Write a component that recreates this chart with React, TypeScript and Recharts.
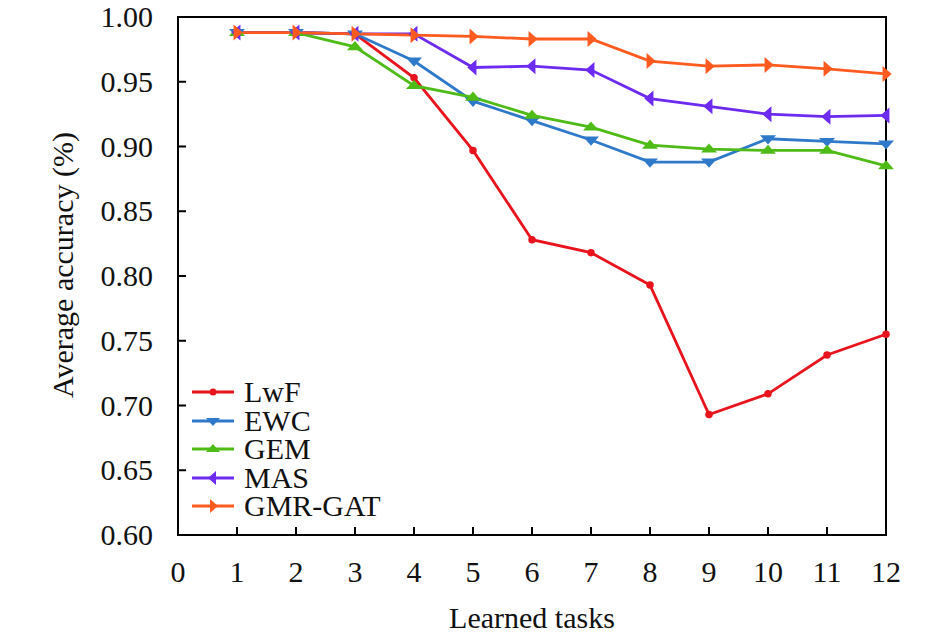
import React from "react";
import {
  Legend,
  Line,
  LineChart,
  ReferenceArea,
  XAxis,
  YAxis,
  Label,
} from "recharts";

const tasks = [1, 2, 3, 4, 5, 6, 7, 8, 9, 10, 11, 12];
const lwf = [0.988, 0.988, 0.987, 0.953, 0.897, 0.828, 0.818, 0.793, 0.693, 0.709, 0.739, 0.755];
const ewc = [0.988, 0.988, 0.987, 0.966, 0.935, 0.92, 0.905, 0.888, 0.888, 0.906, 0.904, 0.902];
const gem = [0.988, 0.988, 0.977, 0.947, 0.938, 0.924, 0.915, 0.901, 0.898, 0.897, 0.897, 0.885];
const mas = [0.988, 0.988, 0.987, 0.987, 0.961, 0.962, 0.959, 0.937, 0.931, 0.925, 0.923, 0.924];
const gmrGat = [0.988, 0.988, 0.987, 0.986, 0.985, 0.983, 0.983, 0.966, 0.962, 0.963, 0.96, 0.956];

const xTicks = [0, 1, 2, 3, 4, 5, 6, 7, 8, 9, 10, 11, 12];
const yTicks = [0.6, 0.65, 0.7, 0.75, 0.8, 0.85, 0.9, 0.95, 1.0];

const FONT = '"Liberation Serif", "Times New Roman", serif';

type Shape = "dot" | "down" | "up" | "left" | "right";

const series: { key: string; name: string; color: string; shape: Shape; values: number[] }[] = [
  { key: "lwf", name: "LwF", color: "#e8131c", shape: "dot", values: lwf },
  { key: "ewc", name: "EWC", color: "#2e79c9", shape: "down", values: ewc },
  { key: "gem", name: "GEM", color: "#4fbb17", shape: "up", values: gem },
  { key: "mas", name: "MAS", color: "#6d2af0", shape: "left", values: mas },
  { key: "gmr", name: "GMR-GAT", color: "#ff5a1f", shape: "right", values: gmrGat },
];

const data = tasks.map((t, i) => {
  const row: Record<string, number> = { task: t };
  series.forEach((s) => {
    row[s.key] = s.values[i];
  });
  return row;
});

const markerPoints = (shape: Shape, cx: number, cy: number, s: number) => {
  const h = s * 0.95;
  switch (shape) {
    case "down":
      return `${cx - s},${cy - h * 0.45} ${cx + s},${cy - h * 0.45} ${cx},${cy + h * 0.75}`;
    case "up":
      return `${cx - s},${cy + h * 0.45} ${cx + s},${cy + h * 0.45} ${cx},${cy - h * 0.75}`;
    case "left":
      return `${cx + h * 0.45},${cy - s} ${cx + h * 0.45},${cy + s} ${cx - h * 0.75},${cy}`;
    default:
      return `${cx - h * 0.45},${cy - s} ${cx - h * 0.45},${cy + s} ${cx + h * 0.75},${cy}`;
  }
};

const Marker = ({ shape, cx, cy, color, size }: { shape: Shape; cx: number; cy: number; color: string; size: number }) =>
  shape === "dot" ? (
    <circle cx={cx} cy={cy} r={size * 0.5} fill={color} />
  ) : (
    <polygon points={markerPoints(shape, cx, cy, size)} fill={color} />
  );

const XTick = (props: any) => {
  const { x, y, payload } = props;
  return (
    <g>
      <line x1={x} x2={x} y1={y} y2={y - 8} stroke="#000" strokeWidth={2} />
      <text x={x} y={y + 47} textAnchor="middle" fontFamily={FONT} fontSize={30} fill="#111">
        {payload.value}
      </text>
    </g>
  );
};

const YTick = (props: any) => {
  const { x, y, payload } = props;
  return (
    <g>
      <line x1={x} x2={x + 8} y1={y} y2={y} stroke="#000" strokeWidth={2} />
      <text x={x - 25} y={y + 10} textAnchor="end" fontFamily={FONT} fontSize={30} fill="#111">
        {Number(payload.value).toFixed(2)}
      </text>
    </g>
  );
};

const renderLegend = () => (
  <div style={{ fontFamily: FONT, fontSize: 30, color: "#111" }}>
    {series.map((s) => (
      <div key={s.key} style={{ display: "flex", alignItems: "center", height: 28.5, lineHeight: "28.5px" }}>
        <svg width={44} height={24} style={{ display: "block" }}>
          <line x1={0} x2={42} y1={12} y2={12} stroke={s.color} strokeWidth={3} />
          <Marker shape={s.shape} cx={21} cy={12} color={s.color} size={s.shape === "dot" ? 7 : 7} />
        </svg>
        <span style={{ marginLeft: 8 }}>{s.name}</span>
      </div>
    ))}
  </div>
);

const YLabel = ({ viewBox }: any) => {
  const cy = viewBox.y + viewBox.height / 2 - 11;
  return (
    <text
      x={62}
      y={cy}
      transform={`rotate(-90, 62, ${cy})`}
      textAnchor="middle"
      dominantBaseline="central"
      fontFamily={FONT}
      fontSize={30}
      fill="#111"
    >
      Average accuracy (%)
    </text>
  );
};

export default function App() {
  return (
    <div style={{ position: "absolute", left: 0, top: 0, width: 945, height: 639, background: "#fff", fontFamily: FONT }}>
      <LineChart width={945} height={639} data={data} margin={{ top: 17, right: 59, bottom: 0, left: 0 }}>
        <ReferenceArea x1={0} x2={12} y1={0.6} y2={1.0} fill="none" stroke="#000" strokeWidth={2} ifOverflow="visible" />
        <XAxis
          dataKey="task"
          type="number"
          domain={[0, 12]}
          ticks={xTicks}
          interval={0}
          height={104}
          tickSize={0}
          tickMargin={0}
          tickLine={false}
          axisLine={{ stroke: "#000", strokeWidth: 2 }}
          tick={<XTick />}
        >
          <Label value="Learned tasks" position="insideBottom" offset={11} fontFamily={FONT} fontSize={30} fill="#111" />
        </XAxis>
        <YAxis
          type="number"
          domain={[0.6, 1.0]}
          ticks={yTicks}
          interval={0}
          width={178}
          tickSize={0}
          tickMargin={0}
          tickLine={false}
          axisLine={{ stroke: "#000", strokeWidth: 2 }}
          tick={<YTick />}
          allowDataOverflow
        >
          <Label content={<YLabel />} />
        </YAxis>
        {series.map((s) => (
          <Line
            key={s.key}
            dataKey={s.key}
            name={s.name}
            stroke={s.color}
            strokeWidth={2.8}
            type="linear"
            isAnimationActive={false}
            activeDot={false}
            dot={(p: any) => (
              <Marker
                key={`${s.key}-${p.index}`}
                shape={s.shape}
                cx={p.cx}
                cy={p.cy}
                color={s.color}
                size={s.shape === "dot" ? 7.5 : 8}
              />
            )}
          />
        ))}
        <Legend
          layout="vertical"
          align="center"
          verticalAlign="middle"
          content={renderLegend}
          wrapperStyle={{ left: 192, top: 378, width: 220 }}
        />
      </LineChart>
    </div>
  );
}
